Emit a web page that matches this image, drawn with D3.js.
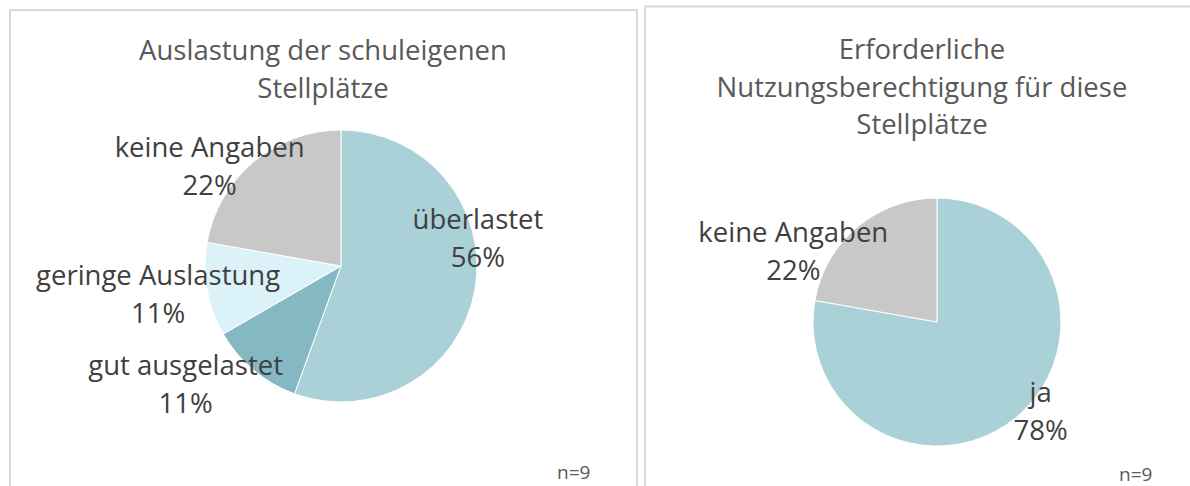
<!DOCTYPE html>
<meta charset="utf-8">
<style>
body { margin: 0; background: #fff; }
svg text { font-family: "Open Sans", Lato, sans-serif; }
</style>
<body>
<script src="https://cdn.jsdelivr.net/npm/d3@7"></script>
<script>
// left chart
var usageLabels = ["überlastet", "gut ausgelastet", "geringe Auslastung", "keine Angaben"];
var usageValues = [5, 1, 1, 2];
var usageColors = ["#aad0d8", "#84b8c2", "#dbf3f8", "#c8c8c8"];

// right chart
var permitLabels = ["ja", "keine Angaben"];
var permitValues = [7, 2];
var permitColors = ["#aad0d8", "#c8c8c8"];

var sampleSize = "n=9";

var svg = d3.select("body").append("svg")
    .attr("width", 1190)
    .attr("height", 486);

// panel frames
svg.append("rect")
    .attr("x", 10).attr("y", 10)
    .attr("width", 627).attr("height", 520)
    .attr("fill", "none").attr("stroke", "#d9d9d9").attr("stroke-width", 2);

svg.append("rect")
    .attr("x", 645).attr("y", 6.5)
    .attr("width", 600).attr("height", 520)
    .attr("fill", "none").attr("stroke", "#d9d9d9").attr("stroke-width", 2);

var pie = d3.pie().sort(null).value(function(d) { return d; });

function drawPie(opts) {
  var g = svg.append("g")
      .attr("transform", "translate(" + opts.cx + "," + opts.cy + ")");

  var arc = d3.arc().innerRadius(0).outerRadius(opts.r);
  var labelArc = d3.arc().innerRadius(opts.r).outerRadius(opts.r);
  var total = d3.sum(opts.values);
  var fmt = d3.format(".0%");

  var arcs = pie(opts.values);

  g.selectAll("path")
      .data(arcs)
    .enter().append("path")
      .attr("d", arc)
      .attr("fill", function(d, i) { return opts.colors[i]; })
      .attr("stroke", "#fff")
      .attr("stroke-width", 1);

  var lab = g.selectAll(".lab")
      .data(arcs)
    .enter().append("text")
      .attr("class", "lab")
      .attr("text-anchor", "middle")
      .attr("fill", "#404040")
      .style("font-size", "27.5px")
      .attr("transform", function(d, i) {
        var c = labelArc.centroid(d);
        return "translate(" + (c[0] + opts.nudge[i][0]) + "," + (c[1] + opts.nudge[i][1]) + ")";
      });

  lab.append("tspan")
      .attr("x", 0).attr("y", -19)
      .text(function(d, i) { return opts.labels[i]; });
  lab.append("tspan")
      .attr("x", 0).attr("y", 19)
      .text(function(d) { return fmt(d.value / total); });

  // title
  var t = svg.append("text")
      .attr("text-anchor", "middle")
      .attr("fill", "#595959")
      .style("font-size", "27.5px");
  opts.title.forEach(function(line, i) {
    t.append("tspan")
        .attr("x", opts.tx)
        .attr("y", opts.ty + i * 37.5)
        .text(line);
  });

  svg.append("text")
      .attr("x", opts.nx).attr("y", opts.ny)
      .attr("fill", "#595959")
      .style("font-size", "19px")
      .text(sampleSize);
}

drawPie({
  cx: 341, cy: 266, r: 136,
  values: usageValues, labels: usageLabels, colors: usageColors,
  nudge: [[3, -42], [-68, 24], [-49, 14], [-44, 14]],
  title: ["Auslastung der schuleigenen", "Stellplätze"],
  tx: 323, ty: 60,
  nx: 557, ny: 479
});

drawPie({
  cx: 937, cy: 322, r: 124,
  values: permitValues, labels: permitLabels, colors: permitColors,
  nudge: [[24, 4], [-64, 34]],
  title: ["Erforderliche", "Nutzungsberechtigung für diese", "Stellplätze"],
  tx: 922, ty: 59,
  nx: 1119, ny: 481
});
</script>
</body>
